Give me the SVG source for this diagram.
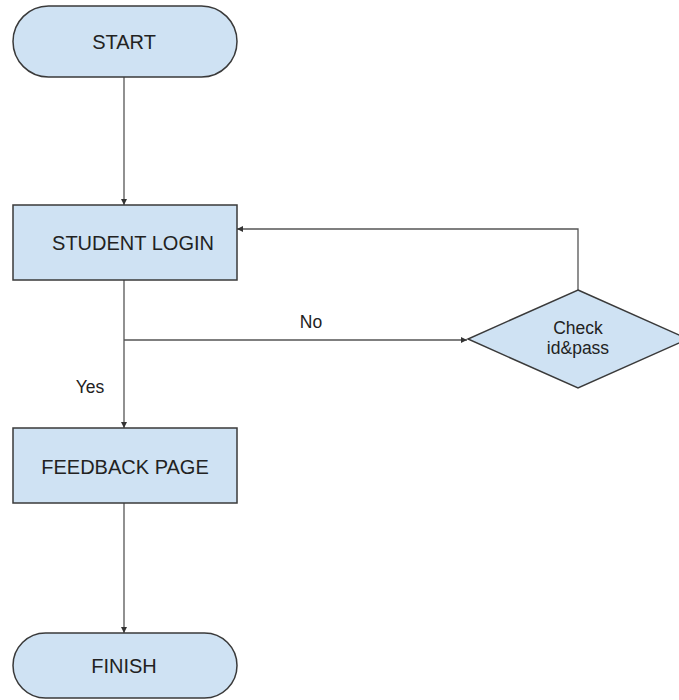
<svg xmlns="http://www.w3.org/2000/svg" width="679" height="700" viewBox="0 0 679 700">
<style>
.node{fill:#cfe2f3;stroke:#3a3a3a;stroke-width:1.5}
.t{font-family:"Liberation Sans",Arial,sans-serif;fill:#222;text-anchor:middle;dominant-baseline:central}
.big{font-size:20px}
.small{font-size:17.5px}
.edge{fill:none;stroke:#555;stroke-width:1.3}
</style>
<defs>
<marker id="arr" viewBox="0 0 10 10" refX="10" refY="5" markerWidth="6" markerHeight="6" orient="auto" markerUnits="userSpaceOnUse">
<path d="M0,0 L10,5 L0,10 z" fill="#333"/>
</marker>
</defs>
<rect width="679" height="700" fill="#fff"/>
<g id="connectors">
<line class="edge" x1="124" y1="77" x2="124" y2="205" marker-end="url(#arr)"/>
<line class="edge" x1="124" y1="280" x2="124" y2="428" marker-end="url(#arr)"/>
<line class="edge" x1="124" y1="340" x2="467" y2="340" marker-end="url(#arr)"/>
<polyline class="edge" points="578,290 578,229 237,229" marker-end="url(#arr)"/>
<line class="edge" x1="124" y1="503" x2="124" y2="633" marker-end="url(#arr)"/>
<text class="t small" x="311" y="322">No</text>
<text class="t small" x="90" y="387">Yes</text>
</g>
<g id="start">
<rect class="node" x="13" y="6" width="224" height="71" rx="35.5" ry="35.5"/>
<text class="t big" x="124" y="42">START</text>
</g>
<g id="login">
<rect class="node" x="13" y="205" width="224" height="75"/>
<text class="t big" x="133" y="243">STUDENT LOGIN</text>
</g>
<g id="check">
<polygon class="node" points="578,290 688,339 578,388 468,339"/>
<text class="t small" x="578" y="328">Check</text>
<text class="t small" x="578" y="348">id&amp;pass</text>
</g>
<g id="feedback">
<rect class="node" x="13" y="428" width="224" height="75"/>
<text class="t big" x="125" y="467">FEEDBACK PAGE</text>
</g>
<g id="finish">
<rect class="node" x="13" y="633" width="224" height="65" rx="32.5" ry="32.5"/>
<text class="t big" x="124" y="666">FINISH</text>
</g>
</svg>
